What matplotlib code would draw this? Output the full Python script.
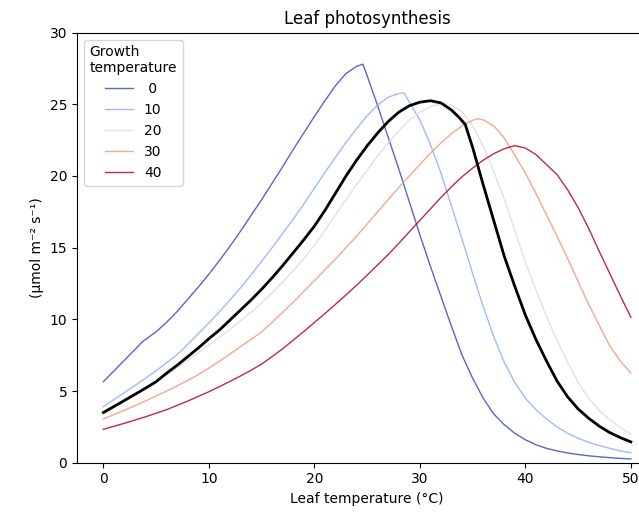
import matplotlib
matplotlib.use("Agg")
import matplotlib.pyplot as plt

# values (x = leaf temp in °C, y = rate)
growth_temps = [" 0", "10", "20", "30", "40"]

x_g0 = [0, 1, 2, 3, 3.7, 4, 5, 6, 7, 8, 9, 10, 11, 12, 13, 14, 15, 16, 17, 18, 19, 20,
        21, 22, 23, 24, 24.6, 25, 26, 27, 28, 29, 30, 31, 32, 33, 34, 35, 36, 37, 38,
        39, 40, 41, 42, 43, 44, 45, 46, 47, 48, 49, 50]
y_g0 = [5.65, 6.4, 7.15, 7.9, 8.44, 8.6, 9.13, 9.8, 10.55, 11.4, 12.25, 13.15, 14.1,
        15.1, 16.15, 17.25, 18.35, 19.5, 20.65, 21.85, 23.0, 24.15, 25.25, 26.3, 27.15,
        27.65, 27.8, 27.0, 24.9, 22.7, 20.5, 18.2, 15.9, 13.7, 11.6, 9.5, 7.5, 5.9, 4.5,
        3.4, 2.65, 2.05, 1.6, 1.25, 1.0, 0.82, 0.68, 0.57, 0.48, 0.41, 0.35, 0.3, 0.26]

x_g10 = [0, 1, 2, 3, 4, 5, 6, 7, 7.5, 8, 9, 10, 11, 12, 13, 14, 15, 16, 17, 18, 19, 20,
         21, 22, 23, 24, 25, 26, 27, 28, 28.5, 29, 30, 31, 32, 33, 34, 35, 36, 37, 38,
         39, 40, 41, 42, 43, 44, 45, 46, 47, 48, 49, 50]
y_g10 = [3.91, 4.4, 4.89, 5.39, 5.89, 6.42, 6.97, 7.55, 7.88, 8.26, 9.0, 9.75, 10.53,
         11.35, 12.2, 13.1, 14.05, 15.0, 16.0, 17.0, 18.05, 19.15, 20.25, 21.3, 22.35,
         23.3, 24.2, 24.95, 25.5, 25.75, 25.8, 25.15, 23.9, 22.2, 20.2, 17.9, 15.6, 13.2,
         10.9, 8.8, 7.0, 5.6, 4.5, 3.7, 3.05, 2.5, 2.05, 1.7, 1.42, 1.2, 1.0, 0.82, 0.7]

x_g20 = [0, 2, 4, 6, 8, 10, 12, 14, 15, 16, 17, 18, 19, 20, 21, 22, 23, 24, 25, 26, 27,
         28, 29, 30, 31, 32, 32.5, 33, 34, 35, 36, 37, 38, 39, 40, 41, 42, 43, 44, 45,
         46, 47, 48, 49, 50]
y_g20 = [3.42, 4.28, 5.18, 6.12, 7.15, 8.2, 9.3, 10.5, 11.15, 11.85, 12.6, 13.4, 14.25,
         15.15, 16.2, 17.3, 18.35, 19.4, 20.4, 21.4, 22.3, 23.15, 23.9, 24.45, 24.85,
         25.02, 25.05, 24.95, 24.5, 23.5, 22.1, 20.3, 18.4, 16.2, 14.0, 12.05, 10.2, 8.55,
         7.0, 5.6, 4.5, 3.65, 3.0, 2.45, 2.0]

x_g30 = [0, 1, 2, 3, 4, 5, 6, 7, 8, 9, 10, 11, 12, 13, 14, 15, 16, 17, 18, 19, 20, 21,
         22, 23, 24, 25, 26, 27, 28, 29, 30, 31, 32, 33, 34, 35, 35.5, 36, 37, 38, 39,
         40, 41, 42, 43, 44, 45, 46, 47, 48, 49, 50]
y_g30 = [3.05, 3.35, 3.66, 3.98, 4.31, 4.65, 5.0, 5.36, 5.74, 6.14, 6.6, 7.08, 7.58,
         8.1, 8.6, 9.12, 9.8, 10.5, 11.2, 11.95, 12.7, 13.45, 14.2, 15.0, 15.8, 16.65,
         17.5, 18.35, 19.2, 20.0, 20.8, 21.6, 22.3, 22.95, 23.5, 23.88, 24.0, 23.92, 23.5,
         22.65, 21.45, 20.2, 18.8, 17.3, 15.8, 14.25, 12.65, 11.05, 9.6, 8.15, 7.1, 6.25]

x_g40 = [0, 2, 4, 6, 8, 10, 11, 12, 13, 14, 15, 16, 17, 18, 19, 20, 21, 22, 23, 24, 25,
         26, 27, 28, 29, 30, 31, 32, 33, 34, 35, 36, 37, 38, 39, 40, 41, 42, 43, 44, 45,
         46, 47, 48, 49, 50]
y_g40 = [2.33, 2.75, 3.2, 3.7, 4.3, 4.95, 5.3, 5.67, 6.05, 6.45, 6.88, 7.4, 7.95, 8.55,
         9.15, 9.78, 10.4, 11.05, 11.7, 12.38, 13.08, 13.8, 14.52, 15.3, 16.1, 16.9, 17.7,
         18.5, 19.25, 19.95, 20.55, 21.1, 21.55, 21.9, 22.12, 21.95, 21.5, 20.8, 20.1,
         19.05, 17.8, 16.35, 14.75, 13.2, 11.65, 10.15]

x_cur = [0, 1, 2, 3, 4, 5, 6, 7, 8, 9, 10, 11, 12, 13, 14, 15, 16, 17, 18, 19, 20, 21,
         22, 23, 24, 25, 26, 27, 28, 29, 30, 31, 32, 33, 33.7, 34.3, 35, 36, 37, 38, 39,
         40, 41, 42, 43, 44, 45, 46, 47, 48, 49, 50]
y_cur = [3.5, 3.92, 4.34, 4.77, 5.2, 5.65, 6.25, 6.8, 7.4, 8.0, 8.65, 9.25, 9.95, 10.65,
         11.35, 12.1, 12.9, 13.75, 14.65, 15.55, 16.5, 17.6, 18.8, 20.0, 21.1, 22.1, 23.0,
         23.8, 24.45, 24.9, 25.15, 25.25, 25.1, 24.6, 24.1, 23.6, 22.0, 19.4, 16.9, 14.4,
         12.3, 10.3, 8.6, 7.1, 5.7, 4.6, 3.75, 3.1, 2.55, 2.1, 1.75, 1.45]

curves_x = [x_g0, x_g10, x_g20, x_g30, x_g40]
curves_y = [y_g0, y_g10, y_g20, y_g30, y_g40]

fig = plt.figure(figsize=(6.39, 5.15), dpi=100)
ax = fig.add_axes([0.1205, 0.1016, 0.908, 0.835])

cmap = plt.get_cmap("coolwarm")
for i, (xs, ys) in enumerate(zip(curves_x, curves_y)):
    ax.plot(xs, ys, color=cmap(i / 4), lw=1.0, alpha=0.85, label=growth_temps[i])
ax.plot(x_cur, y_cur, color="black", lw=2)

ax.set_xlim(-2.5, 52.5)
ax.set_ylim(0, 30)
ax.set_xticks([0, 10, 20, 30, 40, 50])
ax.set_title("Leaf photosynthesis")
ax.set_xlabel("Leaf temperature (°C)")
ax.set_ylabel("(µmol m⁻² s⁻¹)")
ax.legend(title="Growth\ntemperature", loc="upper left")

fig.savefig("out.png", dpi=100)
